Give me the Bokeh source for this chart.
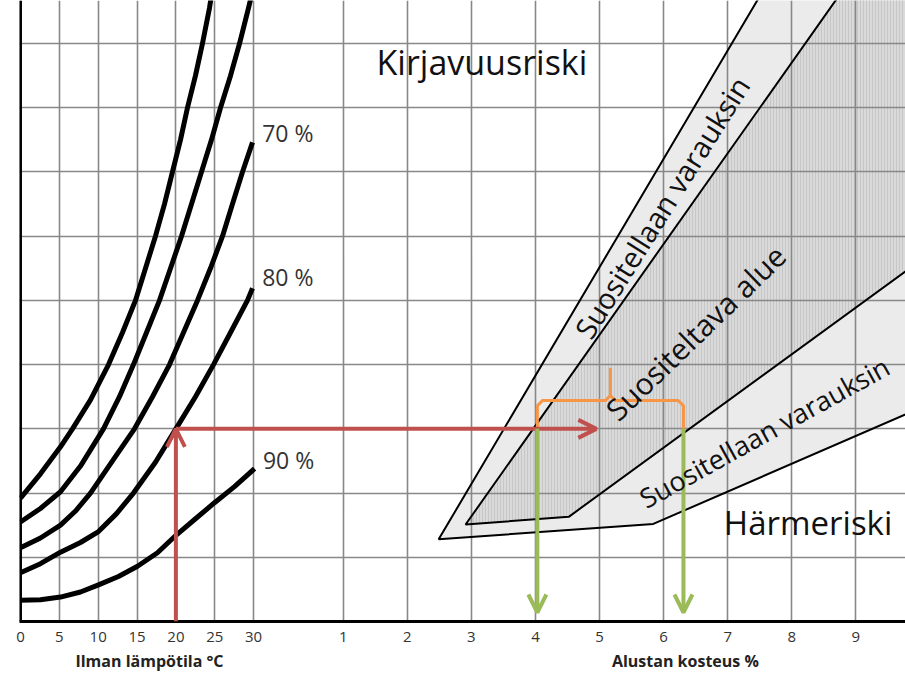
from bokeh.plotting import figure
from bokeh.layouts import column
from bokeh.models import Range1d, FixedTicker, Arrow, OpenHead, Label, Span
from bokeh.embed import file_html
from bokeh.resources import INLINE

# ---------------- data ----------------
temp_ticks = [0, 5, 10, 15, 20, 25, 30]          # Ilman lämpötila °C
moisture_ticks = [1, 2, 3, 4, 5, 6, 7, 8, 9]     # Alustan kosteus %
level_ticks = [1, 2, 3, 4, 5, 6, 7, 8, 9]        # unlabeled vertical scale

# relative-humidity curves (air temperature °C, level)
c1_temp = [0, 2.57, 5.15, 6.69, 9.01, 11.33, 13.13, 14.80, 16.09, 17.37,
           18.53, 19.56, 20.59, 21.49, 22.52, 23.42, 24.32, 24.58]
c1_val = [1.92, 2.30, 2.72, 3.0, 3.45, 4.0, 4.5, 5.0, 5.5, 6.0,
          6.5, 7.0, 7.5, 8.0, 8.5, 9.0, 9.55, 9.75]
c2_temp = [0, 2.57, 5.15, 7.72, 10.68, 12.74, 14.54, 16.22, 17.89, 19.31,
           20.72, 22.01, 23.29, 24.58, 25.74, 27.03, 28.19, 29.34, 29.73]
c2_val = [1.55, 1.76, 2.02, 2.42, 3.0, 3.5, 4.0, 4.5, 5.0, 5.5,
          6.0, 6.5, 7.0, 7.5, 8.0, 8.5, 9.0, 9.55, 9.75]
c3_temp = [0, 2.57, 5.15, 7.08, 9.01, 11.84, 14.67, 16.99, 19.18, 20.98,
           22.78, 24.45, 26.0, 27.28, 28.57, 29.86]
c3_val = [1.15, 1.30, 1.50, 1.72, 2.0, 2.5, 3.0, 3.5, 4.0, 4.5,
          5.0, 5.5, 6.0, 6.5, 7.0, 7.46]
c4_temp = [0, 2.57, 5.15, 7.72, 10.04, 12.36, 14.54, 17.37, 20.0, 22.52,
           24.84, 27.03, 29.21, 29.86]
c4_val = [0.76, 0.90, 1.08, 1.23, 1.40, 1.68, 2.0, 2.48, 3.0, 3.5,
          4.0, 4.5, 5.0, 5.19]
c5_temp = [0, 2.57, 5.15, 7.72, 10.04, 12.61, 15.06, 17.63, 20.08, 22.52,
           24.97, 27.54, 30.12]
c5_val = [0.33, 0.34, 0.38, 0.46, 0.57, 0.70, 0.86, 1.07, 1.35, 1.60,
          1.85, 2.10, 2.38]

rh_labels = ["70 %", "80 %", "90 %"]
rh_label_temp = [31.1, 31.1, 31.2]
rh_label_val = [7.60, 5.36, 2.51]

# zone boundaries (moisture %, level)
outer_edge_x = [7.55, 2.49, 5.84, 10.2]
outer_edge_y = [9.82, 1.28, 1.52, 3.41]
inner_edge_x = [8.79, 2.91, 4.52, 10.2]
inner_edge_y = [9.82, 1.51, 1.63, 5.76]

# worked example
air_temp = 20
example_level = 3.0
arrow_end_moisture = 4.95
moisture_low = 4.03
moisture_high = 6.31
green_end_level = 0.14

# ---------------- scales ----------------
MOIST_MIN, MOIST_MAX = -4.051, 9.775
TEMP_ZERO_AT = -4.0356
TEMP_PER_UNIT = 8.247
LEVEL_MAX = 9.67


def x_of_temp(t):
    return TEMP_ZERO_AT + t / TEMP_PER_UNIT


RED = "#c0504d"
GREEN = "#9bbb59"
ORANGE = "#f79646"
FONT = "Open Sans"

x_range = Range1d(MOIST_MIN, MOIST_MAX)
temp_range = Range1d((MOIST_MIN - TEMP_ZERO_AT) * TEMP_PER_UNIT,
                     (MOIST_MAX - TEMP_ZERO_AT) * TEMP_PER_UNIT)

p = figure(width=905, height=647, x_range=x_range,
           y_range=Range1d(0, LEVEL_MAX),
           output_backend="svg", toolbar_location=None, y_axis_location=None,
           min_border_left=19, min_border_right=0, min_border_top=0,
           min_border_bottom=26)
p.extra_x_ranges = {"temp": temp_range}
p.outline_line_color = None
p.background_fill_color = "white"

temp_pos = [round(x_of_temp(t), 5) for t in temp_ticks]
all_pos = temp_pos + [float(m) for m in moisture_ticks]
overrides = {pos: str(t) for pos, t in zip(temp_pos, temp_ticks)}
overrides.update({float(m): str(m) for m in moisture_ticks})

p.xaxis.ticker = FixedTicker(ticks=all_pos)
p.xaxis.major_label_overrides = overrides
p.xaxis.major_tick_line_color = None
p.xaxis.minor_tick_line_color = None
p.xaxis.axis_line_width = 3
p.xaxis.axis_line_color = "black"
p.xaxis.major_label_text_font = FONT
p.xaxis.major_label_text_font_size = "15px"
p.xaxis.major_label_text_color = "#333333"
p.xaxis.major_label_standoff = 4

p.xgrid.ticker = FixedTicker(ticks=all_pos)
p.ygrid.ticker = FixedTicker(ticks=level_ticks)
for g in (p.xgrid, p.ygrid):
    g.grid_line_color = "#888888"
    g.grid_line_width = 1.6

# left axis line at 0 °C
p.add_layout(Span(location=x_of_temp(0), dimension="height",
                  line_color="black", line_width=3))

# zones (fills under the grid, outlines above)
p.patch(outer_edge_x + [10.2], outer_edge_y + [9.82], fill_color="#ebebeb",
        line_color=None, level="image")
p.patch(inner_edge_x + [10.2], inner_edge_y + [9.82], fill_color="#dadada",
        line_color=None, hatch_pattern="|", hatch_color="#c6c6c6",
        hatch_scale=3, hatch_weight=1, level="image")
p.line(outer_edge_x, outer_edge_y, line_color="black", line_width=2)
p.line(inner_edge_x, inner_edge_y, line_color="black", line_width=2)

# humidity curves
for tx, vy in [(c1_temp, c1_val), (c2_temp, c2_val), (c3_temp, c3_val),
               (c4_temp, c4_val), (c5_temp, c5_val)]:
    p.line(tx, vy, x_range_name="temp", line_color="black", line_width=5,
           line_join="round")

for txt, tx, vy in zip(rh_labels, rh_label_temp, rh_label_val):
    p.add_layout(Label(x=tx, y=vy, x_range_name="temp", text=txt,
                       text_font=FONT, text_font_size="23px",
                       text_color="#333333", text_baseline="middle"))

# orange bracket
mid = (moisture_low + moisture_high) / 2
top = example_level + 0.44
spike = example_level + 0.95
r = 0.08
p.multi_line(
    [[moisture_low, moisture_low, moisture_low + r, mid - r, mid, mid],
     [mid, mid + r, moisture_high - r, moisture_high, moisture_high]],
    [[example_level, top - r, top, top, top + r, spike],
     [top + r, top, top, top - r, example_level]],
    line_color=ORANGE, line_width=3, line_join="round")

# arrows
p.add_layout(Arrow(end=OpenHead(size=18, line_color=RED, line_width=4),
                   x_start=air_temp, y_start=0, x_end=air_temp,
                   y_end=example_level, x_range_name="temp",
                   line_color=RED, line_width=4))
p.add_layout(Arrow(end=OpenHead(size=18, line_color=RED, line_width=4),
                   x_start=x_of_temp(air_temp), y_start=example_level,
                   x_end=arrow_end_moisture, y_end=example_level,
                   line_color=RED, line_width=4))
for m in (moisture_low, moisture_high):
    p.add_layout(Arrow(end=OpenHead(size=18, line_color=GREEN, line_width=4),
                       x_start=m, y_start=example_level, x_end=m,
                       y_end=green_end_level, line_color=GREEN, line_width=4))

# zone texts
p.add_layout(Label(x=1.52, y=8.72, text="Kirjavuusriski", text_font=FONT,
                   text_font_size="34px", text_color="#111111",
                   text_baseline="middle"))
p.add_layout(Label(x=6.94, y=1.54, text="Härmeriski", text_font=FONT,
                   text_font_size="33px", text_color="#111111",
                   text_baseline="middle"))
p.add_layout(Label(x=5.97, y=6.45, text="Suositellaan varauksin",
                   text_font=FONT, text_font_size="29px", text_color="#111111",
                   text_align="center", text_baseline="middle",
                   angle=58, angle_units="deg"))
p.add_layout(Label(x=6.5, y=4.5, text="Suositeltava alue",
                   text_font=FONT, text_font_size="30px", text_color="#111111",
                   text_align="center", text_baseline="middle",
                   angle=44, angle_units="deg"))
p.add_layout(Label(x=7.57, y=2.95, text="Suositellaan varauksin",
                   text_font=FONT, text_font_size="27px", text_color="#111111",
                   text_align="center", text_baseline="middle",
                   angle=29, angle_units="deg"))

# strip under the axis with the two axis titles
q = figure(width=905, height=26, x_range=x_range, y_range=Range1d(0, 1),
           output_backend="svg", toolbar_location=None,
           x_axis_location=None, y_axis_location=None,
           min_border_left=19, min_border_right=0, min_border_top=0,
           min_border_bottom=0)
q.extra_x_ranges = {"temp": temp_range}
q.outline_line_color = None
q.xgrid.visible = False
q.ygrid.visible = False
q.add_layout(Label(x=16.6, y=0.5, x_range_name="temp",
                   text="Ilman lämpötila °C", text_font=FONT,
                   text_font_size="16px", text_font_style="bold",
                   text_color="#222222", text_align="center",
                   text_baseline="middle"))
q.add_layout(Label(x=6.34, y=0.5, text="Alustan kosteus %", text_font=FONT,
                   text_font_size="16px", text_font_style="bold",
                   text_color="#222222", text_align="center",
                   text_baseline="middle"))

layout = column(p, q, spacing=0)
open("out.html", "w").write(file_html(layout, INLINE))
